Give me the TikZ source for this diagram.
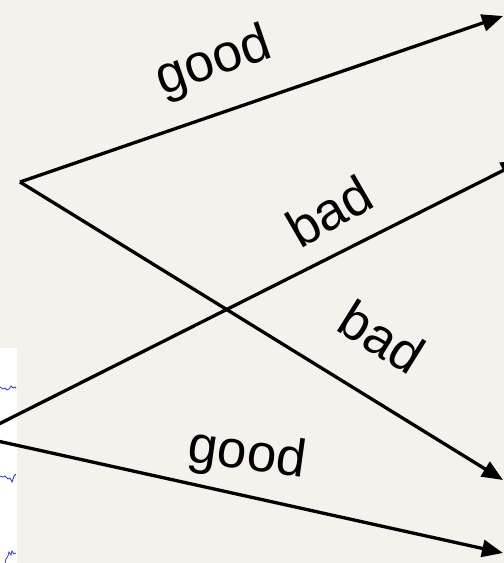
\documentclass[tikz,border=0pt]{standalone}
\usepackage{fontspec}
\setmainfont{Liberation Sans}
\usetikzlibrary{arrows.meta}
\definecolor{paper}{RGB}{245,242,238}
\definecolor{trace}{RGB}{45,60,205}
\begin{document}
\begin{tikzpicture}[>={Triangle[length=21pt,width=17pt]},x=1pt,y=-1pt,line width=3.3pt,font=\fontsize{53}{53}\selectfont]
	\tikzset{lbl/.style={inner sep=0pt}}
	%Nền và khung cắt:
	\useasboundingbox (0,0) rectangle (504,563);
	\clip (0,0) rectangle (504,563);
	\fill[paper] (0,0) rectangle (504,563);
	%Đồ thị bị cắt bên trái:
	\fill[white] (-1,348) rectangle (17,564);
	\draw[trace,line width=0.8pt] (0,387)--(3,389)--(5,388)--(7,390)--(9,389)--(11,386)--(13,388)--(15,387)--(16,388);
	\draw[trace,line width=0.8pt] (0,476)--(3,477)--(5,476)--(8,479)--(10,478)--(12,482)--(14,476)--(16,474);
	\draw[trace,line width=0.8pt] (5,563)--(6,559)--(8,556)--(9,552)--(11,555)--(12,551)--(14,554)--(16,553);
	%Các điểm:
	\path
	(20,182) coordinate (P)
	(-25,436) coordinate (Q)
	(503,16) coordinate (P1)
	(503,480) coordinate (P2)
	(522,161) coordinate (Q1)
	(503,553) coordinate (Q2);
	\draw[->] (P)--(P1);
	\draw[->] (P)--(P2);
	\draw[->] (Q)--(Q1);
	\draw[->] (Q)--(Q2);
	%Nhãn:
	\node[lbl,rotate=19] (good1) at (214,63) {good};
	\node[lbl,rotate=30] (bad1) at (329,211) {bad};
	\node[lbl,rotate=-32] (bad2) at (382,337) {bad};
	\node[lbl,rotate=-8] (good2) at (247,456) {good};
\end{tikzpicture}
\end{document}
